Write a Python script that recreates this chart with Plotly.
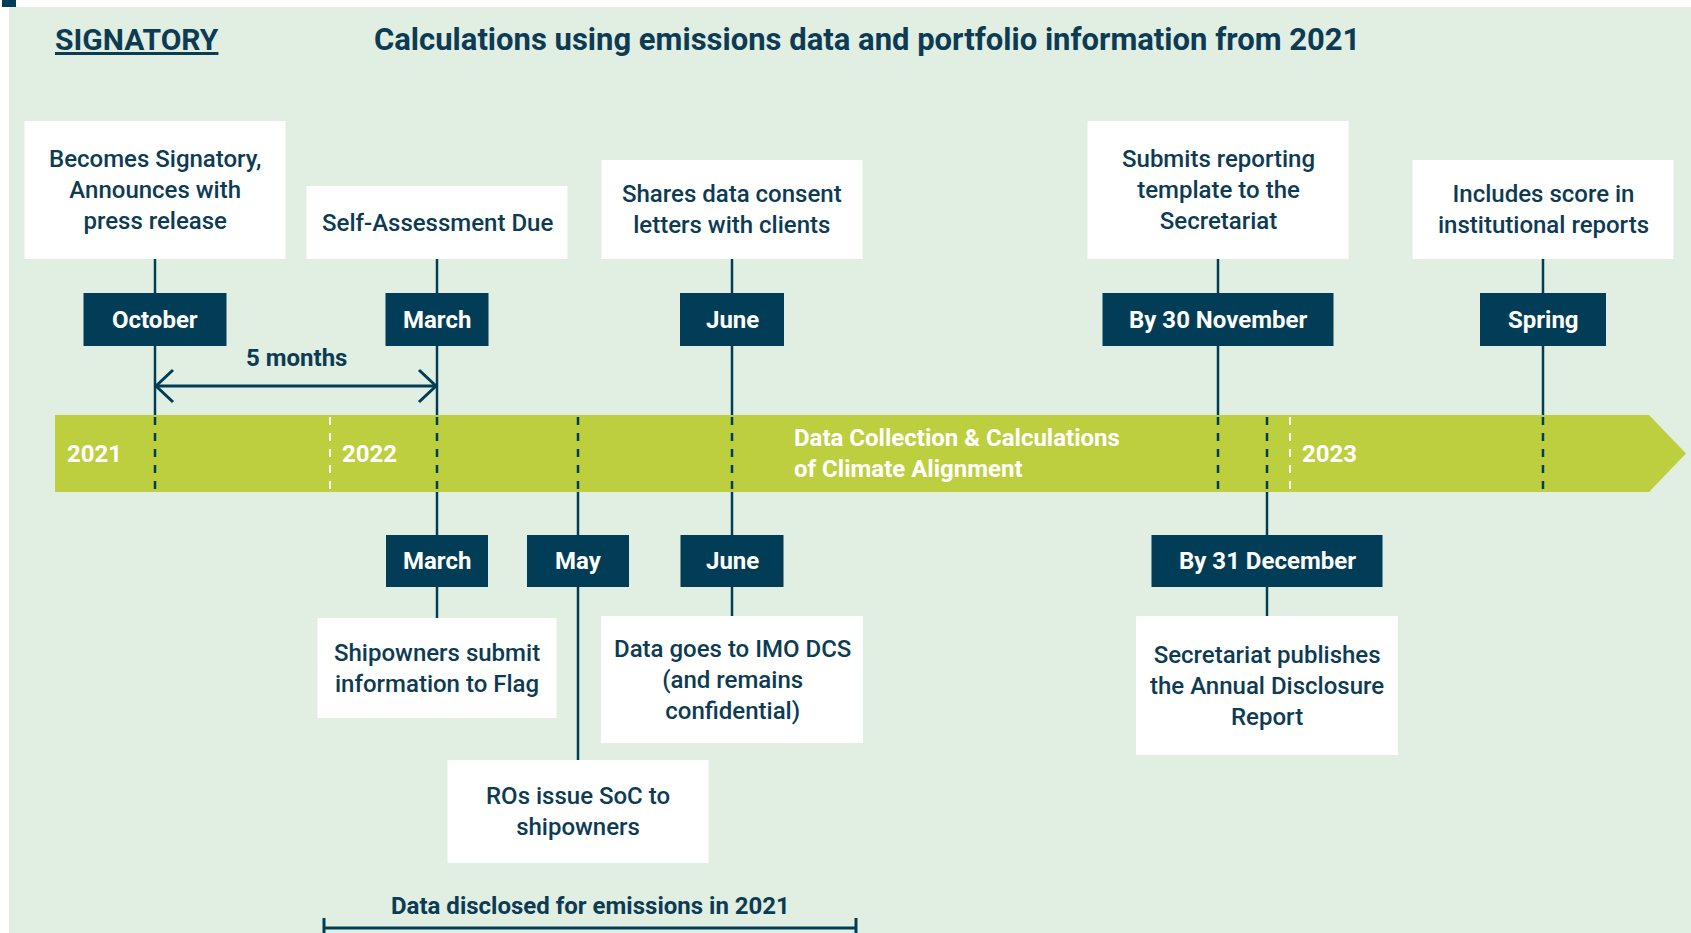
import plotly.graph_objects as go

W, H = 1691, 933

# ---------------- data ----------------
title_left = "SIGNATORY"
title_main = "Calculations using emissions data and portfolio information from 2021"

top_months = ["October", "March", "June", "By 30 November", "Spring"]
top_events = [
    "Becomes Signatory,<br>Announces with<br>press release",
    "Self-Assessment Due",
    "Shares data consent<br>letters with clients",
    "Submits reporting<br>template to the<br>Secretariat",
    "Includes score in<br>institutional reports",
]
top_pos = [155, 437, 732, 1218, 1543]

bottom_months = ["March", "May", "June", "By 31 December"]
bottom_events = [
    "Shipowners submit<br>information to Flag",
    "ROs issue SoC to<br>shipowners",
    "Data goes to IMO DCS<br>(and remains<br>confidential)",
    "Secretariat publishes<br>the Annual Disclosure<br>Report",
]
bottom_pos = [437, 578, 732, 1267]

years = ["2021", "2022", "2023"]
year_pos = [55, 330, 1290]

band_label = "Data Collection & Calculations<br>of Climate Alignment"
span_label = "5 months"
span_from, span_to = 155, 437
disclosed_label = "Data disclosed for emissions in 2021"
disclosed_from, disclosed_to = 324, 856

# ---------------- styles ----------------
BG = "#E1EFE2"
DARK = "#013D57"
GREEN = "#BDCE3E"
TXT = "#0D3B53"
FONT = "Roboto"

top_month_w = [143, 103, 104, 231, 126]
bottom_month_w = [102, 102, 103, 231]
bottom_box_w = [239, 261, 262, 262]
bottom_box_top = [618, 760, 616, 616]
bottom_box_h = [100, 103, 127, 139]
top_box_h = {1: 73, 2: 99, 3: 138}
TOP_BOX_W = 261
TOP_BOX_BOTTOM = 259
MONTH_TOP = (293, 346)
MONTH_BOT = (535, 587)
BAND_Y0, BAND_Y1 = 415, 492
BAND_X0, BAND_X1, BAND_TIP = 55, 1649, 1686

shapes = []
ann = []


def rect(x0, y0, x1, y1, color):
    shapes.append(dict(type="rect", xref="x", yref="y", x0=x0, x1=x1, y0=y0, y1=y1,
                       fillcolor=color, line=dict(width=0), layer="above"))


def vline(x, y0, y1, color=DARK, dash="solid", width=2.5):
    shapes.append(dict(type="line", xref="x", yref="y", x0=x, x1=x, y0=y0, y1=y1,
                       line=dict(color=color, width=width, dash=dash), layer="above"))


def text(x, y, s, size, color=TXT, bold=False, xanchor="center", align="center"):
    ann.append(dict(x=x, y=y, xref="x", yref="y", text=s, showarrow=False,
                    xanchor=xanchor, yanchor="middle", align=align,
                    font=dict(family=FONT, size=size, color=color,
                              weight=700 if bold else 500)))


# background
rect(9, 7, W + 2, H + 2, BG)
rect(2, 0, 16, 7, DARK)

# green band (arrow)
shapes.append(dict(type="path", xref="x", yref="y",
                   path=f"M {BAND_X0},{BAND_Y0} L {BAND_X1},{BAND_Y0} L {BAND_TIP},{(BAND_Y0+BAND_Y1)/2} "
                        f"L {BAND_X1},{BAND_Y1} L {BAND_X0},{BAND_Y1} Z",
                   fillcolor=GREEN, line=dict(width=0), layer="above"))

# connectors
for x in top_pos:
    vline(x, TOP_BOX_BOTTOM, BAND_Y0)
for x, t in zip(bottom_pos, bottom_box_top):
    vline(x, BAND_Y1, t)
for x in sorted(set(top_pos + bottom_pos)):
    vline(x, BAND_Y0 + 2, BAND_Y1, dash="8px,8px")
for x in year_pos[1:]:
    vline(x, BAND_Y0 + 2, BAND_Y1, color="white", dash="8px,8px", width=2)

# top boxes
for x, ev, mo, mw in zip(top_pos, top_events, top_months, top_month_w):
    n = ev.count("<br>") + 1
    h = top_box_h[n]
    rect(x - TOP_BOX_W / 2, TOP_BOX_BOTTOM - h, x + TOP_BOX_W / 2, TOP_BOX_BOTTOM, "white")
    text(x, TOP_BOX_BOTTOM - h / 2, ev, 24)
    rect(x - mw / 2, MONTH_TOP[0], x + mw / 2, MONTH_TOP[1], DARK)
    text(x, (MONTH_TOP[0] + MONTH_TOP[1]) / 2, mo, 24, color="white", bold=True)

# bottom boxes
for x, ev, mo, mw, bw, bt, bh in zip(bottom_pos, bottom_events, bottom_months,
                                     bottom_month_w, bottom_box_w, bottom_box_top, bottom_box_h):
    rect(x - mw / 2, MONTH_BOT[0], x + mw / 2, MONTH_BOT[1], DARK)
    text(x, (MONTH_BOT[0] + MONTH_BOT[1]) / 2, mo, 24, color="white", bold=True)
    rect(x - bw / 2, bt, x + bw / 2, bt + bh, "white")
    text(x, bt + bh / 2, ev, 24)

# years
for x, y in zip(year_pos, years):
    text(x + 10, (BAND_Y0 + BAND_Y1) / 2, y, 24, color="white", bold=True, xanchor="left")

text(792, (BAND_Y0 + BAND_Y1) / 2, band_label, 24, color="white", bold=True,
     xanchor="left", align="left")

# 5 months arrow
ay = 386
shapes.append(dict(type="line", xref="x", yref="y", x0=span_from, x1=span_to, y0=ay, y1=ay,
                   line=dict(color=DARK, width=3), layer="above"))
shapes.append(dict(type="path", xref="x", yref="y",
                   path=f"M {span_from+18},{ay-16} L {span_from+1},{ay} L {span_from+18},{ay+16}",
                   line=dict(color=DARK, width=3), layer="above"))
shapes.append(dict(type="path", xref="x", yref="y",
                   path=f"M {span_to-18},{ay-16} L {span_to-1},{ay} L {span_to-18},{ay+16}",
                   line=dict(color=DARK, width=3), layer="above"))
text((span_from + span_to) / 2, 358, span_label, 24, bold=True)

# bottom bracket
by = 928
shapes.append(dict(type="line", xref="x", yref="y", x0=disclosed_from, x1=disclosed_to, y0=by, y1=by,
                   line=dict(color=DARK, width=3), layer="above"))
vline(disclosed_from, 918, H + 2, width=3)
vline(disclosed_to, 918, H + 2, width=3)
text((disclosed_from + disclosed_to) / 2, 906, disclosed_label, 24, bold=True)

# titles
text(53, 39, f"<u>{title_left}</u>", 30, bold=True, xanchor="left")
text(372, 39, title_main, 31, bold=True, xanchor="left")

fig = go.Figure()
fig.add_trace(go.Scatter(x=[0, W], y=[0, H], mode="markers", marker=dict(opacity=0),
                         hoverinfo="skip", showlegend=False))
fig.update_layout(
    width=W, height=H, margin=dict(l=0, r=0, t=0, b=0),
    paper_bgcolor="white", plot_bgcolor="white",
    xaxis=dict(range=[0, W], visible=False, fixedrange=True),
    yaxis=dict(range=[H, 0], visible=False, fixedrange=True),
    shapes=shapes, annotations=ann, showlegend=False,
)
fig.write_html(
    "out.html",
    config={"displayModeBar": False},
    post_script="document.body.style.margin='0';document.body.style.overflow='hidden';",
)
